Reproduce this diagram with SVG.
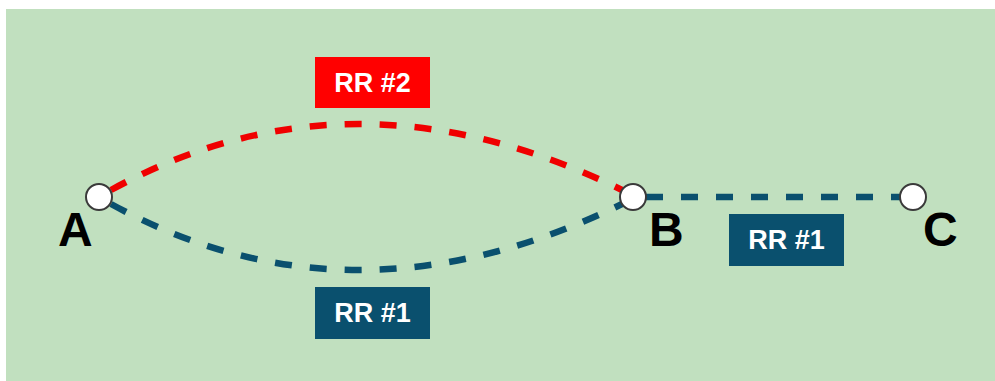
<svg xmlns="http://www.w3.org/2000/svg" width="995" height="381" viewBox="0 0 995 381">
<style>
.bg{fill:#c1e0bf}
.red{fill:none;stroke:#f00000;stroke-width:6.5;stroke-dasharray:17 18}
.blue{fill:none;stroke:#0a506e;stroke-width:6.5;stroke-dasharray:17 18}
.node{fill:#ffffff;stroke:#3a3a3a;stroke-width:2}
.big{font-family:"Liberation Sans",Arial,sans-serif;font-weight:bold;font-size:48px;fill:#000}
.lbl{font-family:"Liberation Sans",Arial,sans-serif;font-weight:bold;font-size:27px;fill:#fff;text-anchor:middle}
</style>
<rect width="995" height="381" fill="#ffffff"/>
<rect class="bg" x="6" y="9" width="989" height="372"/>
<g id="connectors">
<path class="red" d="M111,190 Q352,58 622,190"/>
<path class="blue" d="M111,204 Q352,336 622,204"/>
<path class="blue" d="M646,197 L900,197"/>
</g>
<g id="label-rr2"><rect x="315" y="57" width="115" height="51" fill="#ff0000"/><text class="lbl" x="372.5" y="92">RR #2</text></g>
<g id="label-rr1-bottom"><rect x="315" y="287" width="115" height="52" fill="#0a506e"/><text class="lbl" x="372.5" y="322">RR #1</text></g>
<g id="label-rr1-right"><rect x="729" y="214" width="115" height="52" fill="#0a506e"/><text class="lbl" x="786.5" y="249">RR #1</text></g>
<g id="node-A"><circle class="node" cx="99" cy="197" r="13"/><text class="big" x="58" y="246">A</text></g>
<g id="node-B"><circle class="node" cx="633" cy="197" r="13"/><text class="big" x="649" y="246">B</text></g>
<g id="node-C"><circle class="node" cx="913" cy="197" r="13"/><text class="big" x="923" y="246">C</text></g>
</svg>
